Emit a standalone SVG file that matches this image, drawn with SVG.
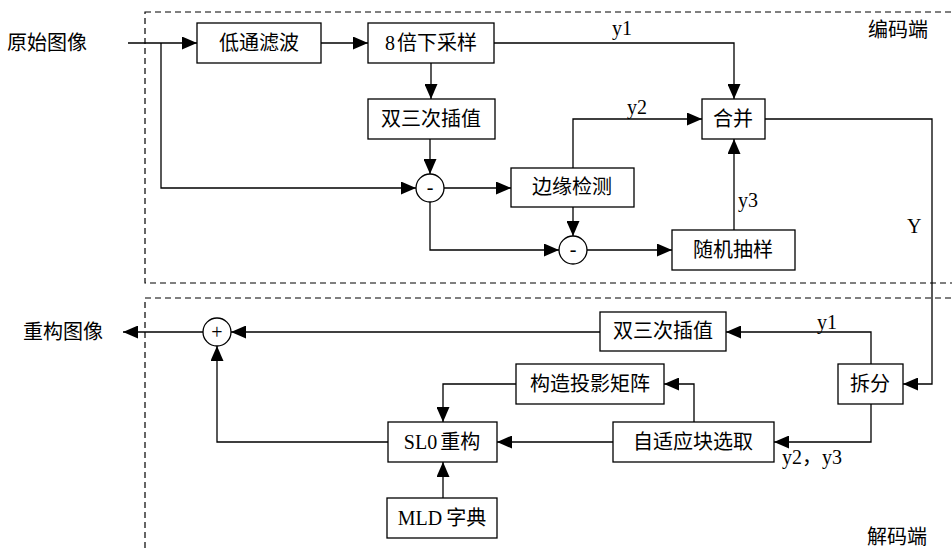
<svg xmlns="http://www.w3.org/2000/svg" width="952" height="551" viewBox="0 0 952 551">
<style>
  .bg { fill: #ffffff; }
  .frame { fill: none; stroke: #000; stroke-width: 1.2; stroke-dasharray: 6 4; }
  .box { fill: #ffffff; stroke: #000; stroke-width: 1.3; }
  .sum { fill: #ffffff; stroke: #000; stroke-width: 1.3; }
  .arrow { fill: none; stroke: #000; stroke-width: 1.3; marker-end: url(#arr); }
  text { font-family: "Liberation Serif", "Noto Sans CJK SC", serif; font-size: 20px; fill: #000; }
  .c { text-anchor: middle; }
  .op { font-family: "Liberation Serif", serif; font-size: 20px; }
</style>
<defs>
  <marker id="arr" viewBox="0 0 15 13" markerWidth="15" markerHeight="13" refX="15" refY="6.5" orient="auto" markerUnits="userSpaceOnUse">
    <path d="M0,0 L15,6.5 L0,13 z" fill="#000"/>
  </marker>
</defs>
<rect class="bg" x="0" y="0" width="952" height="551"/>

<g id="frames">
  <rect class="frame" x="145" y="12" width="830" height="271"/>
  <rect class="frame" x="145" y="298" width="830" height="280"/>
  <text x="868" y="37">编码端</text>
  <text x="867" y="544">解码端</text>
</g>

<g id="connectors">
  <path class="arrow" d="M128,43 H197"/>
  <path class="arrow" d="M161,43 V188 H416"/>
  <path class="arrow" d="M321,43 H368"/>
  <path class="arrow" d="M431,63 V99"/>
  <path class="arrow" d="M430,139 V174"/>
  <path class="arrow" d="M444,188 H511"/>
  <path class="arrow" d="M430,202 V250 H559"/>
  <path class="arrow" d="M573,207 V236"/>
  <path class="arrow" d="M573,168 V119 H702"/>
  <path class="arrow" d="M494,43 H734 V99"/>
  <path class="arrow" d="M587,250 H672"/>
  <path class="arrow" d="M734,230 V139"/>
  <path class="arrow" d="M765,119 H932 V384 H903"/>
  <path class="arrow" d="M871,364 V332 H726"/>
  <path class="arrow" d="M600,332 H231"/>
  <path class="arrow" d="M203,332 H123"/>
  <path class="arrow" d="M871,404 V442 H774"/>
  <path class="arrow" d="M694,422 V384 H664"/>
  <path class="arrow" d="M516,384 H443 V422"/>
  <path class="arrow" d="M613,442 H497"/>
  <path class="arrow" d="M388,442 H217 V346"/>
  <path class="arrow" d="M443,498 V462"/>
  <text x="622" y="35" class="c">y1</text>
  <text x="637" y="114" class="c">y2</text>
  <text x="738" y="207">y3</text>
  <text x="907" y="233">Y</text>
  <text x="817" y="329">y1</text>
  <text x="782" y="464">y2，y3</text>
</g>

<g id="input"><text x="7" y="50">原始图像</text></g>
<g id="output"><text x="23" y="339">重构图像</text></g>

<g id="lowpass"><rect class="box" x="197" y="23" width="124" height="40"/><text x="259" y="50" class="c">低通滤波</text></g>
<g id="downsample"><rect class="box" x="368" y="23" width="126" height="40"/><text x="431" y="50" class="c">8<tspan dx="2">倍下采样</tspan></text></g>
<g id="bicubic-enc"><rect class="box" x="368" y="99" width="127" height="40"/><text x="431" y="126" class="c">双三次插值</text></g>
<g id="sub1"><circle class="sum" cx="430" cy="188" r="14"/><text x="430" y="194" class="c op">-</text></g>
<g id="edge"><rect class="box" x="511" y="168" width="123" height="39"/><text x="572" y="194" class="c">边缘检测</text></g>
<g id="sub2"><circle class="sum" cx="573" cy="250" r="14"/><text x="573" y="256" class="c op">-</text></g>
<g id="merge"><rect class="box" x="702" y="99" width="63" height="40"/><text x="733" y="126" class="c">合并</text></g>
<g id="random"><rect class="box" x="672" y="230" width="123" height="40"/><text x="733" y="257" class="c">随机抽样</text></g>

<g id="split"><rect class="box" x="838" y="364" width="65" height="40"/><text x="870" y="391" class="c">拆分</text></g>
<g id="bicubic-dec"><rect class="box" x="600" y="312" width="126" height="39"/><text x="663" y="338" class="c">双三次插值</text></g>
<g id="add"><circle class="sum" cx="217" cy="332" r="14"/><text x="217" y="339" class="c op">+</text></g>
<g id="projection"><rect class="box" x="516" y="364" width="148" height="40"/><text x="590" y="391" class="c">构造投影矩阵</text></g>
<g id="adaptive"><rect class="box" x="613" y="422" width="161" height="40"/><text x="693" y="449" class="c">自适应块选取</text></g>
<g id="sl0"><rect class="box" x="388" y="422" width="109" height="40"/><text x="442" y="449" class="c">SL0<tspan dx="3">重构</tspan></text></g>
<g id="mld"><rect class="box" x="387" y="498" width="110" height="40"/><text x="442" y="525" class="c">MLD<tspan dx="4">字典</tspan></text></g>
</svg>
